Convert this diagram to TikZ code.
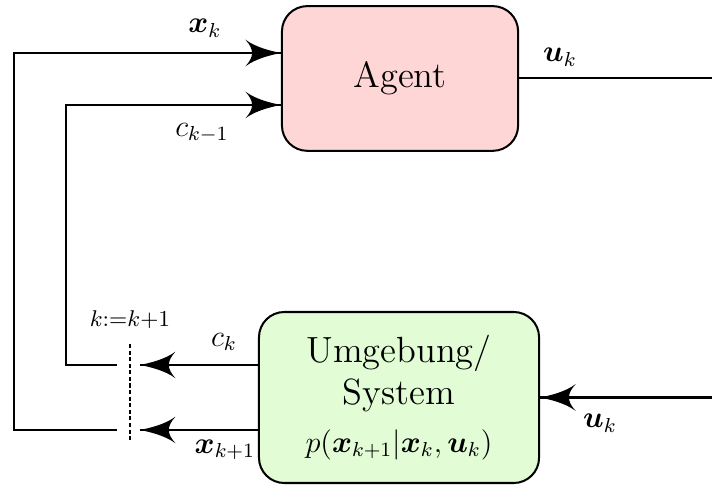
\documentclass[tikz,border=0pt]{standalone}
\usepackage{amsmath}
\usepackage{amssymb}
\usepackage{bm}
\usepackage{tikz}
\usetikzlibrary{arrows}
\usetikzlibrary{decorations.markings}
\definecolor{agentpink}{RGB}{255,214,214}
\definecolor{systemgreen}{RGB}{226,253,214}
\tikzset{->/.style = {decoration={markings,
                                  mark=at position 1 with {\arrow[scale=2.7]{latex'}}},
                      postaction={decorate}}}
\tikzset{block/.style = {draw, thick, rounded corners=10pt, align=center}}
\tikzset{lbl/.style = {font=\large}}

\begin{document}
\begin{tikzpicture}
      \useasboundingbox (0, 0) rectangle (9.889, 6.736);
      \node [block, fill=agentpink, minimum width=3.28cm, minimum height=2.01cm, font=\Large] (agent) at (5.556, 5.646) {Agent};
      \node [block, fill=systemgreen, minimum width=3.89cm, minimum height=2.375cm, font=\Large] (system) at (5.542, 1.215)
            {Umgebung/\\[-1.5pt] System\\[1pt] {\large $p(\bm{x}_{k+1}|\bm{x}_k, \bm{u}_k)$}};
      \coordinate (uout) at (9.889, 5.646);
      \coordinate (uin) at (9.889, 1.215);
      \coordinate (cktip) at (1.944, 1.667);
      \coordinate (xtip) at (1.944, 0.764);
      \coordinate (ckback) at (1.625, 1.667);
      \coordinate (xback) at (1.625, 0.764);
      \coordinate (cuttop) at (1.806, 1.958);
      \coordinate (cutbot) at (1.806, 0.597);
      \draw [thick] (agent.east) -- (uout);
      \draw [thick, ->] (uin) -- (system.east);
      \draw [thick, ->] (system.west |- cktip) -- (cktip);
      \draw [thick, ->] (system.west |- xtip) -- (xtip);
      \draw [thick, ->] (ckback) -- ++(-0.708, 0) |- ([yshift=-0.368cm]agent.west);
      \draw [thick, ->] (xback) -- ++(-1.431, 0) |- ([yshift=0.354cm]agent.west);
      \draw [thick, dash pattern=on 1.6pt off 1pt] (cuttop) -- (cutbot);
      \node [lbl] (xk) at (2.847, 6.347) {$\bm{x}_k$};
      \node [lbl] (ckm) at (2.806, 4.889) {$c_{k-1}$};
      \node [lbl] (uktop) at (7.778, 5.944) {$\bm{u}_k$};
      \node [lbl] (ukbot) at (8.333, 0.861) {$\bm{u}_k$};
      \node [lbl] (ck) at (3.111, 1.986) {$c_k$};
      \node [lbl] (xkp) at (3.125, 0.486) {$\bm{x}_{k+1}$};
      \node (kinc) at (1.806, 2.292) {\small $k{:=}k{+}1$};
    \end{tikzpicture}
\end{document}
